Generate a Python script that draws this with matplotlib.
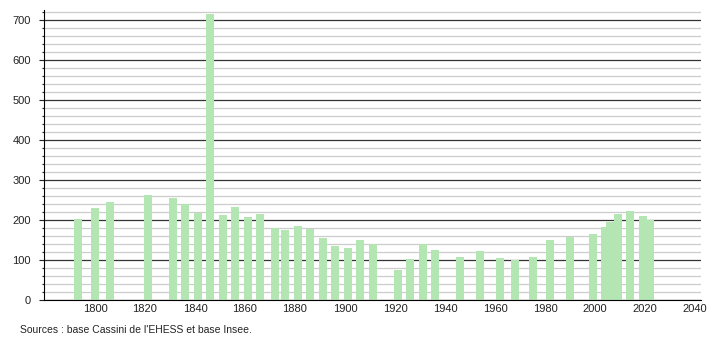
import matplotlib
matplotlib.use('Agg')
import matplotlib.pyplot as plt
from matplotlib.ticker import MultipleLocator

plt.rcParams['font.family'] = ['Liberation Sans', 'DejaVu Sans']

# années de recensement et population
annees = [1793, 1800, 1806, 1821, 1831, 1836, 1841, 1846, 1851, 1856,
          1861, 1866, 1872, 1876, 1881, 1886, 1891, 1896, 1901, 1906,
          1911, 1921, 1926, 1931, 1936, 1946, 1954, 1962, 1968, 1975,
          1982, 1990, 1999, 2004, 2006, 2009, 2014, 2019, 2022]
population = [202, 229, 245, 262, 255, 240, 217, 715, 212, 232,
              207, 215, 180, 174, 185, 177, 155, 135, 130, 150,
              140, 75, 102, 140, 124, 107, 123, 104, 100, 107,
              149, 157, 166, 182, 195, 215, 222, 210, 199]
x_ticks = [1800, 1820, 1840, 1860, 1880, 1900, 1920, 1940, 1960, 1980, 2000, 2020, 2040]
source = "Sources : base Cassini de l'EHESS et base Insee."

fig = plt.figure(figsize=(7.1, 3.4), dpi=100)
ax = fig.add_axes([44 / 710, 40 / 340, 657 / 710, 290 / 340])

ax.bar(annees, population, width=3.2, color='#b3e6b3', zorder=3)

ax.set_xlim(1779.6, 2042.4)
ax.set_ylim(0, 725)

# grille
ax.yaxis.set_major_locator(MultipleLocator(100))
ax.yaxis.set_minor_locator(MultipleLocator(20))
ax.grid(which='major', axis='y', color='#333333', linewidth=0.9, zorder=1)
ax.grid(which='minor', axis='y', color='#cccccc', linewidth=0.9, zorder=0)
ax.grid(which='major', axis='x', visible=False)

ax.set_xticks(x_ticks)
ax.tick_params(axis='x', length=0, pad=3, labelsize=8, colors='#222222')
ax.tick_params(axis='y', which='major', length=3.6, width=0.8, pad=6, labelsize=8, colors='#222222')
ax.tick_params(axis='y', which='minor', length=1.6, width=0.8, colors='#222222')

for s in ['top', 'right']:
    ax.spines[s].set_visible(False)
ax.spines['left'].set_color('black')
ax.spines['bottom'].set_color('black')
ax.spines['left'].set_zorder(4)
ax.spines['bottom'].set_zorder(4)

fig.text(20 / 710, 1 - 330 / 340, source, fontsize=7.5, color='#222222', va='center', ha='left')

plt.savefig('out.png', dpi=100)
